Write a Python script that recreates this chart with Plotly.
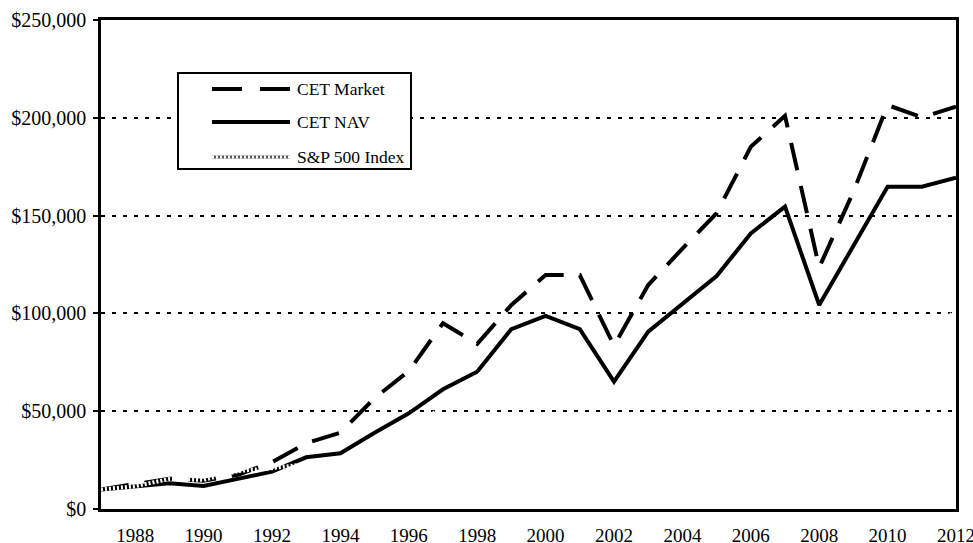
import plotly.graph_objects as go

years = list(range(1987, 2013))
cet_market = [10000, 12600, 15500, 14500, 17500, 23900, 33700, 39000, 56700, 70500,
              95000, 84400, 104300, 119600, 119600, 83500, 114500, 133100, 151200, 185200,
              201000, 123500, 162200, 206500, 200200, 205700]
cet_nav = [10000, 11760, 13100, 11760, 15180, 19070, 26430, 28470, 39000, 48900,
           61200, 70200, 92000, 98700, 92000, 65100, 90650, 105200, 119100, 140900,
           154600, 104300, 134500, 164800, 164800, 169400]
sp500 = [10000, 11660, 15360, 14880, 19420, 20890, 23000, 23300, 32070, 39440,
         52610, 67660, 81870, 74420, 65560, 51070, 65730, 72900, 76470, 88550,
         93420, 58860, 74450, 85690, 87490, 101490]
x_ticks = list(range(1988, 2013, 2))
y_ticks = [0, 50000, 100000, 150000, 200000, 250000]
series_names = ["CET Market", "CET NAV", "S&P 500 Index"]

FONT = "Liberation Serif, Times New Roman, serif"

fig = go.Figure()
fig.add_trace(go.Scatter(x=years, y=cet_market, mode="lines", name=series_names[0],
                         line=dict(color="black", width=4, dash="28px,16px"),
                         showlegend=False))
fig.add_trace(go.Scatter(x=years, y=cet_nav, mode="lines", name=series_names[1],
                         line=dict(color="black", width=4), showlegend=False))
fig.add_trace(go.Scatter(x=years, y=sp500, mode="lines", name=series_names[2],
                         line=dict(color="white", width=4, dash="2px,2px"),
                         showlegend=False))

# Manual legend (paper coordinates)
L, R, T, B = 101, 956, 20, 509
def px(x):
    return (x - L) / (R - L)
def py(y):
    return (B - y) / (B - T)

shapes = [
    dict(type="rect", xref="paper", yref="paper", x0=px(178), x1=px(411), y0=py(169), y1=py(73),
         line=dict(color="black", width=2), fillcolor="white", layer="above"),
    dict(type="line", xref="paper", yref="paper", x0=px(212), x1=px(290), y0=py(89), y1=py(89),
         line=dict(color="black", width=4, dash="30px,18px"), layer="above"),
    dict(type="line", xref="paper", yref="paper", x0=px(212), x1=px(290), y0=py(122), y1=py(122),
         line=dict(color="black", width=4), layer="above"),
    dict(type="line", xref="paper", yref="paper", x0=px(212), x1=px(290), y0=py(157), y1=py(157),
         line=dict(color="#555555", width=3), layer="above"),
    dict(type="line", xref="paper", yref="paper", x0=px(212), x1=px(290), y0=py(157), y1=py(157),
         line=dict(color="white", width=3, dash="2px,2px"), layer="above"),
]
annotations = []
for name, yy in zip(series_names, [89, 122, 157]):
    annotations.append(dict(xref="paper", yref="paper", x=px(295), y=py(yy), text=name,
                            showarrow=False, xanchor="left", yanchor="middle",
                            font=dict(family=FONT, size=17.5, color="black")))

fig.update_layout(
    width=973, height=543,
    margin=dict(l=L, r=973 - R, t=T, b=543 - B),
    paper_bgcolor="white", plot_bgcolor="white",
    font=dict(family=FONT, size=20, color="black"),
    shapes=shapes, annotations=annotations,
)
fig.update_xaxes(range=[1987, 2012], tickvals=x_ticks, ticktext=[str(v) for v in x_ticks],
                 showgrid=False, zeroline=False, showline=True, linecolor="black", linewidth=2.5,
                 mirror=True, ticks="", ticklabelstandoff=7, automargin=False,
                 ticklabeloverflow="allow", tickfont=dict(family=FONT, size=19))
fig.update_yaxes(range=[0, 250000], tickvals=y_ticks,
                 ticktext=["${:,}".format(v) for v in y_ticks],
                 showgrid=True, gridcolor="black", gridwidth=2, griddash="4px,7px",
                 zeroline=False, showline=True, linecolor="black", linewidth=2.5, mirror=True,
                 ticks="outside", ticklen=5, tickwidth=2, tickcolor="black",
                 ticklabelstandoff=3, automargin=False,
                 tickfont=dict(family=FONT, size=20))

fig.write_html("out.html", config={"displayModeBar": False},
               post_script="document.body.style.margin='0';")
